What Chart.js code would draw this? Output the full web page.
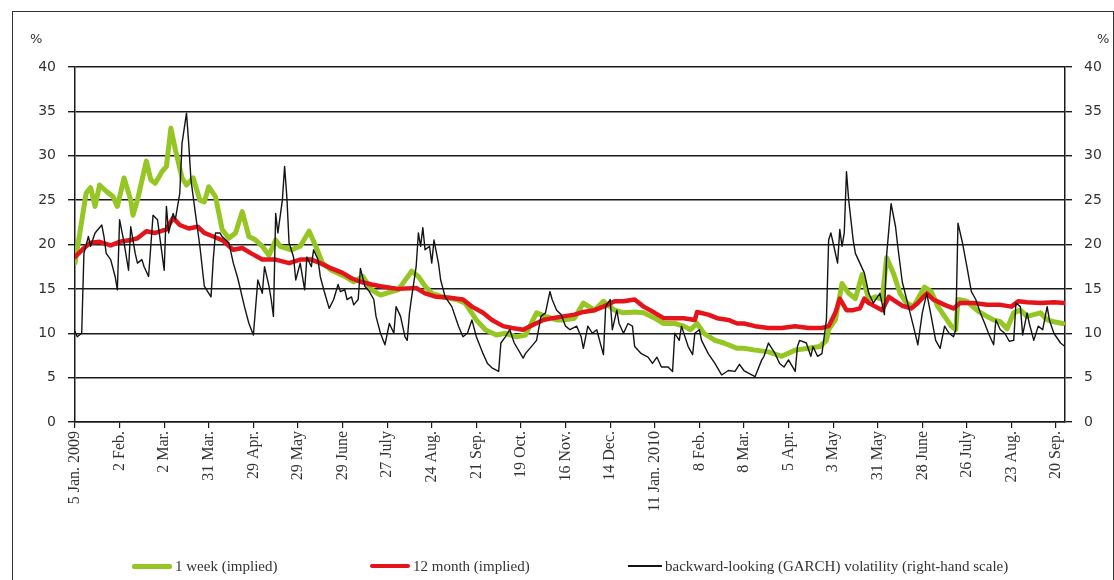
<!DOCTYPE html>
<html>
<head>
<meta charset="utf-8">
<script src="https://cdn.jsdelivr.net/npm/chart.js@4.4.1/dist/chart.umd.min.js"></script>
<style>
  html, body { margin: 0; padding: 0; background: #fff; overflow: hidden; }
  #wrap { position: relative; width: 1114px; height: 580px; overflow: hidden; }
  #frame { position: absolute; left: 12px; top: 11px; width: 1100px; height: 620px; border: 1px solid #333; }
  #chart { position: absolute; left: 0; top: 0; }
  .pct { position: absolute; top: 31px; font: 13px 'DejaVu Sans', sans-serif; color: #333; }
  #legend { position: absolute; left: 0; top: 556px; width: 1114px; height: 20px; font: 15px 'Liberation Serif', serif; color: #333; }
  #legend .item { position: absolute; top: 0; height: 20px; display: flex; align-items: center; white-space: nowrap; }
  #legend .swatch { display: inline-block; margin-right: 3px; }
</style>
</head>
<body>
<div id="wrap">
  <div id="frame"></div>
  <canvas id="chart" width="1114" height="580"></canvas>
  <span class="pct" style="left:30px">%</span>
  <span class="pct" style="left:1097px">%</span>
  <div id="legend"></div>
</div>
<script>
// x = trading day since 5 Jan. 2009, tick every 20 observations
const tickLabels = ['5 Jan. 2009', '2 Feb.', '2 Mar.', '31 Mar.', '29 Apr.', '29 May', '29 June',
    '27 July', '24 Aug.', '21 Sep.', '19 Oct.', '16 Nov.', '14 Dec.', '11 Jan. 2010', '8 Feb.',
    '8 Mar.', '5 Apr.', '3 May', '31 May', '28 June', '26 July', '23 Aug.', '20 Sep.'];
const tickDays = [0, 20, 40, 60, 80, 100, 120, 140, 160, 180, 200, 220, 240, 260, 280, 300,
    320, 340, 360, 380, 400, 420, 440];

// [day, %]
const oneWeekImplied = [
    [0,17.9],[5,25.8],[7,26.4],[9,24.3],[11,26.7],[14,26],[17,25.4],[19,24.3],[22,27.5],[25,25],
    [26,23.3],[28,25],[32,29.4],[34,27.3],[36,26.9],[39,28.2],[41,28.8],[43,33.1],[45,30.7],[48,27.5],
    [50,26.7],[53,27.5],[56,25],[58,24.8],[60,26.5],[63,25.4],[66,21.7],[69,20.7],[72,21.3],[75,23.7],
    [78,20.9],[81,20.5],[84,19.8],[87,18.8],[90,20.5],[92,19.8],[97,19.4],[101,19.8],[105,21.5],[108,19.8],
    [111,17.9],[115,17.1],[121,16.4],[125,15.8],[129,16.4],[133,14.9],[137,14.3],[142,14.7],[145,14.9],[151,17],
    [154,16.4],[157,15.3],[160,14.5],[165,14.1],[171,13.8],[175,13.4],[180,11.5],[184,10.4],[189,9.8],[193,10],
    [198,9.6],[202,9.8],[207,12.3],[211,11.9],[216,11.5],[219,11.5],[224,11.7],[228,13.4],[233,12.6],[237,13.6],
    [242,12.6],[246,12.3],[251,12.4],[255,12.3],[260,11.7],[264,11.1],[269,11.1],[273,10.8],[276,10.4],[279,11.1],
    [282,10],[287,9.2],[291,8.9],[297,8.3],[300,8.3],[305,8.1],[311,7.9],[317,7.4],[323,8.1],[329,8.3],
    [334,8.5],[337,9.2],[338,10.4],[341,11.5],[344,15.6],[347,14.5],[350,13.9],[353,16.6],[356,13.8],[359,14.1],
    [362,13.8],[364,18.5],[367,16.8],[370,14.5],[373,13.4],[376,13],[381,15.2],[384,14.7],[387,13],[390,11.9],
    [393,10.8],[395,10.4],[396,13.8],[400,13.6],[405,12.5],[409,11.9],[412,11.5],[415,11.3],[418,10.5],[421,12.3],
    [424,12.6],[427,11.9],[430,12.1],[433,12.3],[436,11.5],[439,11.3],[443,11.1]
];

const twelveMonthImplied = [
    [0,18.6],[4,19.6],[7,20.2],[11,20.3],[16,19.9],[20,20.3],[25,20.5],[28,20.7],[32,21.5],[36,21.3],
    [41,21.7],[44,23],[47,22.2],[51,21.8],[55,22],[58,21.3],[62,20.9],[66,20.5],[71,19.4],[75,19.6],
    [79,19],[84,18.3],[90,18.3],[96,17.9],[101,18.3],[106,18.3],[110,17.9],[115,17.3],[120,16.8],[124,16.2],
    [128,15.8],[133,15.5],[137,15.3],[142,15.1],[145,15],[153,15.1],[157,14.5],[162,14.1],[168,14],[174,13.8],
    [178,13],[183,12.3],[187,11.5],[192,10.8],[196,10.6],[201,10.4],[205,10.9],[210,11.5],[214,11.7],[219,11.9],
    [224,12.1],[228,12.4],[233,12.6],[237,13],[242,13.6],[246,13.6],[251,13.8],[255,13],[260,12.3],[264,11.7],
    [269,11.7],[273,11.7],[278,11.5],[279,12.4],[284,12.1],[288,11.7],[293,11.5],[297,11.1],[300,11.1],[305,10.8],
    [311,10.6],[317,10.6],[323,10.8],[329,10.6],[335,10.6],[338,10.8],[341,12.3],[343,13.9],[346,12.6],[349,12.6],
    [352,12.8],[354,13.9],[356,13.4],[359,13],[362,12.6],[365,14.1],[368,13.6],[371,13.1],[375,12.8],[378,13.4],
    [382,14.5],[385,13.8],[390,13.2],[394,12.8],[397,13.4],[403,13.4],[409,13.2],[415,13.2],[420,13],[423,13.6],
    [427,13.5],[433,13.4],[439,13.5],[444,13.4]
];

const garchVolatility = [
    [0,10.2],[1,9.6],[3,10],[4,19],[6,20.9],[7,19.8],[9,21.3],[12,22.2],[13,20.9],[14,19],
    [16,18.3],[18,16.4],[19,14.9],[20,22.8],[22,20.2],[24,17.1],[25,22],[27,19],[28,17.9],[30,18.3],
    [31,17.5],[33,16.4],[35,23.3],[37,22.8],[39,19],[40,17.1],[41,24.3],[42,21.3],[44,23.5],[45,22.8],
    [47,25.8],[48,31.4],[50,34.8],[51,31.4],[52,27.3],[54,23.5],[56,19.8],[58,15.3],[60,14.5],[61,14.1],
    [62,18.3],[63,21.3],[65,21.3],[66,20.9],[69,20.2],[71,17.9],[73,16.2],[76,13],[78,11.1],[80,9.8],
    [82,16],[84,14.5],[85,17.5],[87,15.3],[88,13.8],[89,11.9],[90,23.5],[91,21.3],[93,25],[94,28.8],
    [95,25.4],[96,20.2],[98,18.6],[99,16],[101,17.9],[102,16.4],[103,14.9],[104,18.6],[106,17.5],[107,19.4],
    [109,18.3],[110,16.4],[112,14.5],[114,12.8],[116,13.8],[118,15.5],[119,14.7],[121,14.9],[122,13.8],[124,14.1],
    [125,13.2],[127,13.8],[128,17.3],[130,15.3],[132,14.7],[134,13.8],[135,11.9],[137,10],[139,8.7],[141,11.1],
    [143,10],[144,13],[146,11.9],[148,9.6],[149,9.2],[150,12.3],[151,14.1],[153,17.5],[154,21.3],[155,19.8],
    [156,21.9],[157,19.4],[159,19.8],[160,17.9],[161,20.5],[163,17.9],[164,16],[166,14.1],[169,13],[172,10.8],
    [174,9.6],[176,10],[178,11.5],[180,9.6],[183,7.7],[185,6.6],[187,6.1],[190,5.7],[191,8.9],[193,9.6],
    [195,10.4],[197,8.9],[201,7.2],[202,7.7],[204,8.3],[207,9.2],[209,11.9],[211,12.3],[213,14.7],[214,13.8],
    [216,12.6],[218,12.1],[220,10.8],[222,10.4],[225,10.8],[227,9.6],[228,8.3],[230,10.8],[232,10],[234,10.4],
    [236,8.5],[237,7.6],[238,13],[240,13.8],[241,10.4],[243,12.6],[244,11.1],[246,10],[248,11.1],[250,10.8],
    [251,8.5],[254,7.7],[257,7.3],[259,6.6],[261,7.3],[263,6.2],[266,6.2],[268,5.7],[269,10],[271,9.2],
    [272,10.8],[275,8.5],[277,7.6],[278,10],[280,10.4],[281,9.2],[284,7.7],[287,6.6],[290,5.3],[293,5.8],
    [296,5.7],[298,6.5],[300,5.8],[302,5.5],[305,5.1],[308,7],[309,7.4],[311,8.9],[314,7.7],[316,6.6],
    [318,6.2],[320,7],[323,5.7],[324,8.5],[325,9.2],[328,8.9],[330,7.4],[331,8.5],[333,7.4],[335,7.7],
    [337,11.5],[338,20.5],[339,21.3],[340,20.2],[342,17.9],[343,21.7],[344,19.8],[345,21.3],[346,28.2],[347,25],
    [349,20.5],[350,19],[352,17.9],[354,16.8],[356,14.5],[358,13.4],[361,14.5],[363,12.1],[364,18.8],[366,24.6],
    [368,22],[369,19.8],[371,15.8],[374,12.8],[376,10.8],[378,8.7],[380,12.3],[382,14.5],[384,11.9],[386,9.2],
    [388,8.3],[390,10.8],[392,10],[394,9.6],[395,10.4],[396,22.4],[398,20.2],[400,17.5],[402,14.7],[404,13.8],
    [406,12.3],[408,11.1],[410,9.8],[412,8.7],[413,11.5],[415,10.4],[417,10],[419,9.1],[421,9.2],[422,13.4],
    [424,13],[425,9.8],[427,12.3],[428,11.1],[430,9.2],[432,10.8],[434,10.4],[436,13],[437,11.5],[439,10],
    [442,8.9],[444,8.5]
];

const GREEN = '#95c623';
const RED = '#e5141b';
const BLACK = '#141414';
const AXIS = '#1a1a1a';
const TEXT = '#333';

const toXY = rows => rows.map(([x, y]) => ({ x, y }));

const chart = new Chart(document.getElementById('chart'), {
    type: 'line',
    data: {
        datasets: [
            { label: '1 week (implied)', data: toXY(oneWeekImplied), borderColor: GREEN, backgroundColor: GREEN,
              borderWidth: 5, order: 2, yAxisID: 'y' },
            { label: '12 month (implied)', data: toXY(twelveMonthImplied), borderColor: RED, backgroundColor: RED,
              borderWidth: 4.5, order: 1, yAxisID: 'y' },
            { label: 'backward-looking (GARCH) volatility (right-hand scale)', data: toXY(garchVolatility),
              borderColor: BLACK, backgroundColor: BLACK, borderWidth: 1.4, order: 0, yAxisID: 'y1' },
        ],
    },
    options: {
        responsive: false,
        animation: false,
        layout: { padding: { top: 67, left: 0, right: 0, bottom: 0 } },
        elements: {
            point: { radius: 0, hoverRadius: 0 },
            line: { tension: 0, borderJoinStyle: 'round', borderCapStyle: 'round', fill: false },
        },
        plugins: { legend: { display: false }, tooltip: { enabled: false } },
        scales: {
            x: {
                type: 'linear',
                min: 0,
                max: 444,
                afterBuildTicks: s => { s.ticks = tickDays.map(v => ({ value: v })); },
                afterFit: s => { s.height = 158; },
                ticks: {
                    autoSkip: false, minRotation: 90, maxRotation: 90, padding: 3, color: TEXT,
                    font: { family: 'Liberation Serif', size: 16 },
                    callback: (v, i) => tickLabels[i],
                },
                grid: { drawOnChartArea: false, color: AXIS, lineWidth: 1.2, tickLength: 6 },
                border: { color: AXIS, width: 1.5 },
            },
            y: {
                position: 'left',
                min: 0,
                max: 40,
                afterFit: s => { s.width = 75; },
                ticks: { stepSize: 5, padding: 12, color: TEXT, font: { family: 'DejaVu Sans', size: 14 } },
                grid: { color: AXIS, lineWidth: 1.4, tickLength: 7 },
                border: { color: AXIS, width: 1.5 },
            },
            y1: {
                position: 'right',
                min: 0,
                max: 40,
                afterFit: s => { s.width = 49; },
                ticks: { stepSize: 5, padding: 12, color: TEXT, font: { family: 'DejaVu Sans', size: 14 } },
                grid: { drawOnChartArea: false, color: AXIS, lineWidth: 1.4, tickLength: 7 },
                border: { color: AXIS, width: 1.5 },
            },
        },
    },
});

// legend below the chart, placed like the original
const legendLeft = [132, 370, 628];
const legendSwatch = [40, 40, 34];
const legend = document.getElementById('legend');
chart.data.datasets.forEach((ds, i) => {
    const item = document.createElement('div');
    item.className = 'item';
    item.style.left = legendLeft[i] + 'px';
    const sw = document.createElement('span');
    sw.className = 'swatch';
    sw.style.width = legendSwatch[i] + 'px';
    sw.style.height = Math.max(1.5, ds.borderWidth) + 'px';
    sw.style.background = ds.borderColor;
    sw.style.borderRadius = ds.borderWidth > 2 ? '2px' : '0';
    item.appendChild(sw);
    item.appendChild(document.createTextNode(ds.label));
    legend.appendChild(item);
});
</script>
</body>
</html>
